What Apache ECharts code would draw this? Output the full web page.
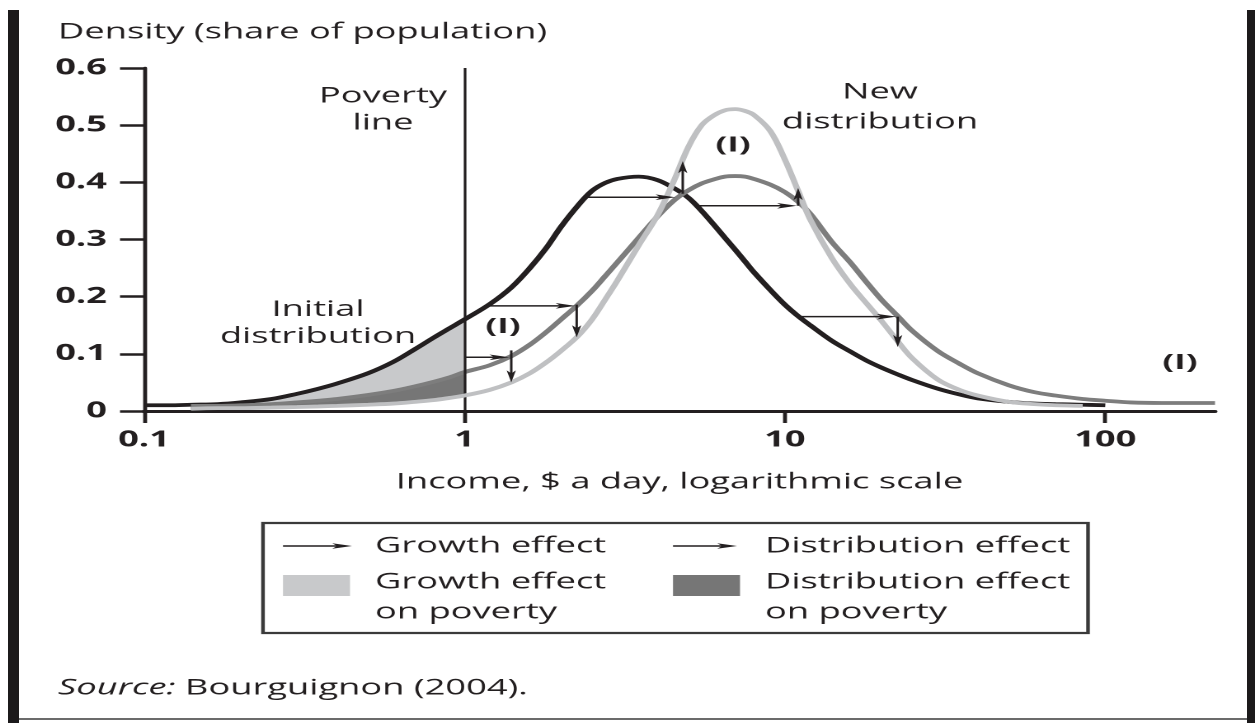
<!DOCTYPE html>
<html>
<head>
<meta charset="utf-8">
<title>Growth and distribution effects on poverty</title>
<script src="https://cdn.jsdelivr.net/npm/echarts@6/dist/echarts.min.js"></script>
<style>
  html, body { margin: 0; background: #fff; }
  body { width: 1255px; height: 723px; position: relative; overflow: hidden; }
  /* the scanned figure is stretched sideways, so the chart is drawn narrow and widened */
  #chart { position: absolute; left: 0; top: 0; width: 761px; height: 723px; transform: scaleX(1.64915); transform-origin: 0 0; }
  .rule { position: absolute; background: #1c1a1b; }
</style>
</head>
<body>
<div id="chart"></div>
<div class="rule" style="left:8px;top:10px;width:11px;height:713px"></div>
<div class="rule" style="left:1247px;top:10px;width:8px;height:713px"></div>
<div class="rule" style="left:19px;top:718px;width:1228px;height:2px;background:#6b6b6b"></div>
<script>
const K = 1255 / 761
const sx = (px) => px / K // page x -> chart x

const ink = '#231f20'
const font = 'Open Sans'

// income, $ a day
const income = [0.1, 0.12, 0.14, 0.17, 0.2, 0.25, 0.3, 0.35, 0.4, 0.5, 0.6, 0.7, 0.8, 0.9, 1,
  1.2, 1.4, 1.6, 1.8, 2, 2.25, 2.5, 2.75, 3, 3.5, 4, 4.5, 5, 5.5, 6, 6.5, 7, 7.5, 8, 9, 10,
  11, 12, 14, 16, 18, 20, 22.5, 25, 30, 35, 40, 50, 60, 70, 85, 100, 120, 150, 180, 220]

// density, share of population
const initial = [0.010, 0.010, 0.011, 0.012, 0.015, 0.021, 0.030, 0.039, 0.048, 0.066, 0.086, 0.108, 0.128, 0.145, 0.160,
  0.187, 0.216, 0.250, 0.285, 0.322, 0.358, 0.385, 0.399, 0.406, 0.410, 0.404, 0.390, 0.373, 0.350, 0.326, 0.303, 0.282, 0.262, 0.243, 0.212, 0.186,
  0.166, 0.150, 0.123, 0.104, 0.088, 0.076, 0.064, 0.054, 0.039, 0.029, 0.022, 0.016, 0.013, 0.012, 0.011, 0.010, null, null, null, null]

// initial distribution after growth only
const shifted = [null, null, 0.009, 0.009, 0.010, 0.012, 0.015, 0.018, 0.021, 0.028, 0.035, 0.043, 0.051, 0.059, 0.068,
  0.080, 0.096, 0.116, 0.138, 0.160, 0.185, 0.210, 0.236, 0.260, 0.303, 0.340, 0.368, 0.386, 0.398, 0.405, 0.410, 0.411, 0.410, 0.406, 0.396, 0.383,
  0.366, 0.345, 0.296, 0.260, 0.225, 0.195, 0.166, 0.140, 0.105, 0.083, 0.066, 0.045, 0.033, 0.027, 0.021, 0.018, 0.015, 0.014, 0.014, 0.014]

const newDist = [null, null, 0.004, 0.005, 0.005, 0.006, 0.007, 0.008, 0.009, 0.011, 0.013, 0.016, 0.019, 0.023, 0.027,
  0.037, 0.050, 0.066, 0.085, 0.105, 0.130, 0.160, 0.195, 0.228, 0.290, 0.342, 0.402, 0.462, 0.500, 0.517, 0.526, 0.528, 0.525, 0.518, 0.490, 0.440,
  0.385, 0.335, 0.268, 0.222, 0.188, 0.158, 0.122, 0.092, 0.055, 0.037, 0.027, 0.016, 0.012, 0.010, 0.009, null, null, null, null, null]

const povertyLine = 1

// [x from, y from, x to, y to]
const growthArrows = [
  [1, 0.094, 1.38, 0.094],
  [1.2, 0.184, 2.22, 0.184],
  [2.35, 0.374, 4.55, 0.374],
  [5.3, 0.359, 10.9, 0.359],
  [11.1, 0.165, 22.3, 0.165],
]
const distArrows = [
  [1.4, 0.106, 1.4, 0.05],
  [2.24, 0.186, 2.24, 0.129],
  [4.8, 0.38, 4.8, 0.437],
  [11, 0.359, 11, 0.39],
  [22.5, 0.165, 22.5, 0.112],
]

const xTicks = [0.1, 1, 10, 100]
const xTickLabels = ['0.1', '1', '10', '100']
const yTickLabels = ['0', '0.1', '0.2', '0.3', '0.4', '0.5', '0.6']

const pairs = (ys) => income.map((x, i) => [x, ys[i]])

// shading left of the poverty line: areas painted over each other, the new distribution in white
const poor = income.map((x, i) => i).filter((i) => income[i] <= povertyLine && shifted[i] != null && newDist[i] != null)
const fillUnder = (ys, color) => ({
  type: 'line',
  data: poor.map((i) => [income[i], ys[i]]),
  smooth: 0.35,
  showSymbol: false,
  lineStyle: { width: 0 },
  areaStyle: { color, opacity: 1 },
  z: 1,
  silent: true,
})

function arrowHead(tip, ux, uy) {
  const head = 12
  const half = 2.8
  const bx = tip[0] - ux * head
  const by = tip[1] - uy * head
  return {
    type: 'polygon',
    shape: { points: [tip, [bx - uy * half, by + ux * half], [tip[0] - ux * 9, tip[1] - uy * 9], [bx + uy * half, by - ux * half]] },
    style: { fill: ink },
  }
}

function arrowItem(params, api) {
  const a = api.coord([api.value(0), api.value(1)])
  const b = api.coord([api.value(2), api.value(3)])
  const len = Math.hypot(b[0] - a[0], b[1] - a[1])
  const ux = (b[0] - a[0]) / len
  const uy = (b[1] - a[1]) / len
  return {
    type: 'group',
    children: [
      { type: 'line', shape: { x1: a[0], y1: a[1], x2: b[0] - ux * 8, y2: b[1] - uy * 8 }, style: { stroke: ink, lineWidth: 1.5 } },
      arrowHead(b, ux, uy),
    ],
  }
}

function legendArrow(x1, x2, y) {
  return {
    type: 'group',
    z: 10,
    children: [
      { type: 'line', shape: { x1, y1: y, x2: x2 - 8, y2: y }, style: { stroke: ink, lineWidth: 1.5 } },
      arrowHead([x2, y], 1, 0),
    ],
  }
}

function label(x, y, text, extra) {
  return {
    type: 'text',
    x,
    y,
    z: 10,
    style: Object.assign({
      text,
      fill: ink,
      fontFamily: font,
      fontSize: 22,
      align: 'center',
      textAlign: 'center',
      verticalAlign: 'middle',
      textVerticalAlign: 'middle',
      lineHeight: 27,
    }, extra),
  }
}

const leftAligned = { align: 'left', textAlign: 'left' }

const chart = echarts.init(document.getElementById('chart'), null, { renderer: 'canvas', devicePixelRatio: 2 })

chart.setOption({
  animation: false,
  backgroundColor: '#fff',
  textStyle: { fontFamily: font, color: ink },
  grid: { left: sx(144), right: 761 - sx(1215), top: 68, bottom: 723 - 411 },
  xAxis: {
    type: 'log',
    logBase: 10,
    min: 0.1,
    max: 220,
    z: 2,
    axisLine: { lineStyle: { color: ink, width: 3 } },
    axisTick: { length: 12, customValues: xTicks, lineStyle: { color: ink, width: 2.4 } },
    axisLabel: {
      customValues: xTicks,
      formatter: (v) => {
        const i = xTicks.findIndex((t) => Math.abs(Math.log10(t) - Math.log10(v)) < 1e-6)
        return i < 0 ? '' : xTickLabels[i]
      },
      margin: 18,
      color: ink,
      fontSize: 22,
      fontWeight: 'bold',
      fontFamily: font,
    },
    splitLine: { show: false },
    minorTick: { show: false },
    name: 'Income, $ a day, logarithmic scale',
    nameLocation: 'middle',
    nameGap: 60,
    nameTextStyle: { color: ink, fontSize: 22, fontFamily: font },
  },
  yAxis: {
    type: 'value',
    min: 0,
    max: 0.6,
    interval: 0.1,
    z: 2,
    axisLine: { show: true, lineStyle: { color: ink, width: 2.4 } },
    axisTick: { show: true, length: sx(24), lineStyle: { color: ink, width: 2.5 } },
    axisLabel: {
      formatter: (v) => yTickLabels[Math.round(v * 10)],
      margin: sx(37),
      color: ink,
      fontSize: 22,
      fontWeight: 'bold',
      fontFamily: font,
    },
    splitLine: { show: false },
  },
  series: [
    fillUnder(initial, '#c8c9cb'),
    fillUnder(shifted, '#767676'),
    fillUnder(newDist, '#ffffff'),
    {
      type: 'line', name: 'Initial distribution', data: pairs(initial), smooth: 0.35,
      showSymbol: false, lineStyle: { color: ink, width: 3.8 }, z: 3,
      markLine: {
        silent: true,
        symbol: 'none',
        label: { show: false },
        lineStyle: { color: ink, width: 1.6, type: 'solid' },
        data: [{ xAxis: povertyLine }],
      },
    },
    {
      type: 'line', name: 'After growth', data: pairs(shifted), smooth: 0.35,
      showSymbol: false, lineStyle: { color: '#7d7d7d', width: 3.8 }, z: 4,
    },
    {
      type: 'line', name: 'New distribution', data: pairs(newDist), smooth: 0.35,
      showSymbol: false, lineStyle: { color: '#bfc0c2', width: 3.8 }, z: 5,
    },
    {
      type: 'custom', name: 'Growth effect', renderItem: arrowItem, data: growthArrows,
      encode: { x: [0, 2], y: [1, 3] }, z: 6, silent: true,
    },
    {
      type: 'custom', name: 'Distribution effect', renderItem: arrowItem, data: distArrows,
      encode: { x: [0, 2], y: [1, 3] }, z: 6, silent: true,
    },
  ],
  graphic: [
    label(sx(58), 32, 'Density (share of population)', leftAligned),
    label(sx(383), 109.5, 'Poverty\nline'),
    label(sx(318), 323, 'Initial\ndistribution'),
    label(sx(880), 107, 'New\ndistribution', { lineHeight: 30 }),
    label(sx(733), 145.5, '(I)', { fontSize: 21, fontWeight: 'bold' }),
    label(sx(503), 327, '(I)', { fontSize: 21, fontWeight: 'bold' }),
    label(sx(1180), 363, '(I)', { fontSize: 21, fontWeight: 'bold' }),
    {
      type: 'rect',
      z: 10,
      shape: { x: sx(263), y: 523, width: sx(1088) - sx(263), height: 110 },
      style: { fill: 'none', stroke: '#3a3a3a', lineWidth: 2.2 },
    },
    legendArrow(sx(283), sx(352), 546),
    legendArrow(sx(673), sx(737), 546),
    { type: 'rect', z: 10, shape: { x: sx(283), y: 575, width: sx(350) - sx(283), height: 21 }, style: { fill: '#c8c9cb' } },
    { type: 'rect', z: 10, shape: { x: sx(673), y: 575, width: sx(740) - sx(673), height: 21 }, style: { fill: '#767676' } },
    label(sx(375), 546, 'Growth effect', leftAligned),
    label(sx(765), 546, 'Distribution effect', leftAligned),
    label(sx(375), 597, 'Growth effect\non poverty', Object.assign({ lineHeight: 30 }, leftAligned)),
    label(sx(765), 597, 'Distribution effect\non poverty', Object.assign({ lineHeight: 30 }, leftAligned)),
    label(sx(58), 688, '{i|Source:} Bourguignon (2004).', Object.assign({
      rich: { i: { fontStyle: 'italic', fontFamily: font, fontSize: 22, fill: ink } },
    }, leftAligned)),
  ],
})
</script>
</body>
</html>
